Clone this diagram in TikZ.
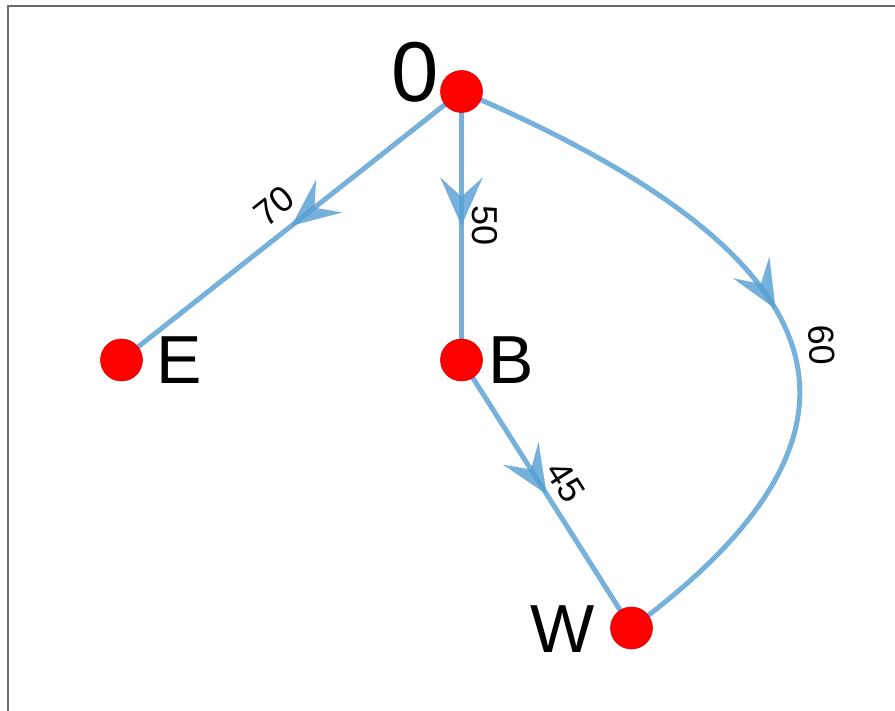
\documentclass[tikz,border=0pt]{standalone}
\usepackage{fontspec}
\setmainfont{Liberation Sans}
\usetikzlibrary{arrows.meta,decorations.markings,backgrounds}
\definecolor{edgeblue}{RGB}{84,158,210}
\definecolor{framegray}{RGB}{105,105,105}
\begin{document}
\begin{tikzpicture}[x=1pt,y=-1pt,
  vert/.style={circle, fill=red, draw=red!88!black, line width=0.6pt, minimum size=42pt, inner sep=0pt},
  vlabel/.style={inner sep=0pt, font=\fontsize{68}{68}\selectfont},
  elabel/.style={inner sep=0pt, font=\fontsize{36}{36}\selectfont},
  edge/.style={color=edgeblue, line width=5pt, opacity=0.8,
    postaction={decorate, decoration={markings,
      mark=at position #1 with {\arrow{Stealth[length=48pt,width=42pt,inset=19pt,line width=0.1pt]}}}}},
  edge/.default=0.5]
\useasboundingbox (0,0) rectangle (895,711);
\draw[framegray, line width=1.5pt] (895,6) -- (8,6) -- (8,711);
% vertices
\node[vert] (n0) at (461.5,91.5) {};
\node[vert] (nE) at (121.5,360) {};
\node[vert] (nB) at (461.5,360) {};
\node[vert] (nW) at (631.5,628) {};
% vertex labels
\node[inner sep=0pt, font=\fontsize{85}{85}\selectfont] (l0) at (415,72) {0};
\node[vlabel] (lE) at (179,360) {E};
\node[vlabel] (lB) at (511.5,360.5) {B};
\node[vlabel] (lW) at (562.5,629) {W};
% edges
\begin{scope}[on background layer]
\draw[edge] (n0.center) -- (nE.center);
\draw[edge] (n0.center) -- (nB.center);
\draw[edge] (nB.center) -- (nW.center);
\draw[edge] (n0.center) .. controls (850,257) and (900,430) .. (nW.center);
\end{scope}
% edge labels
\node[elabel, rotate=38.4] (w70) at (274,206) {70};
\node[elabel, rotate=-90] (w50) at (485,226) {50};
\node[elabel, rotate=-57.6] (w45) at (566,482) {45};
\node[elabel, rotate=-88] (w60) at (822,345) {60};
\end{tikzpicture}
\end{document}
